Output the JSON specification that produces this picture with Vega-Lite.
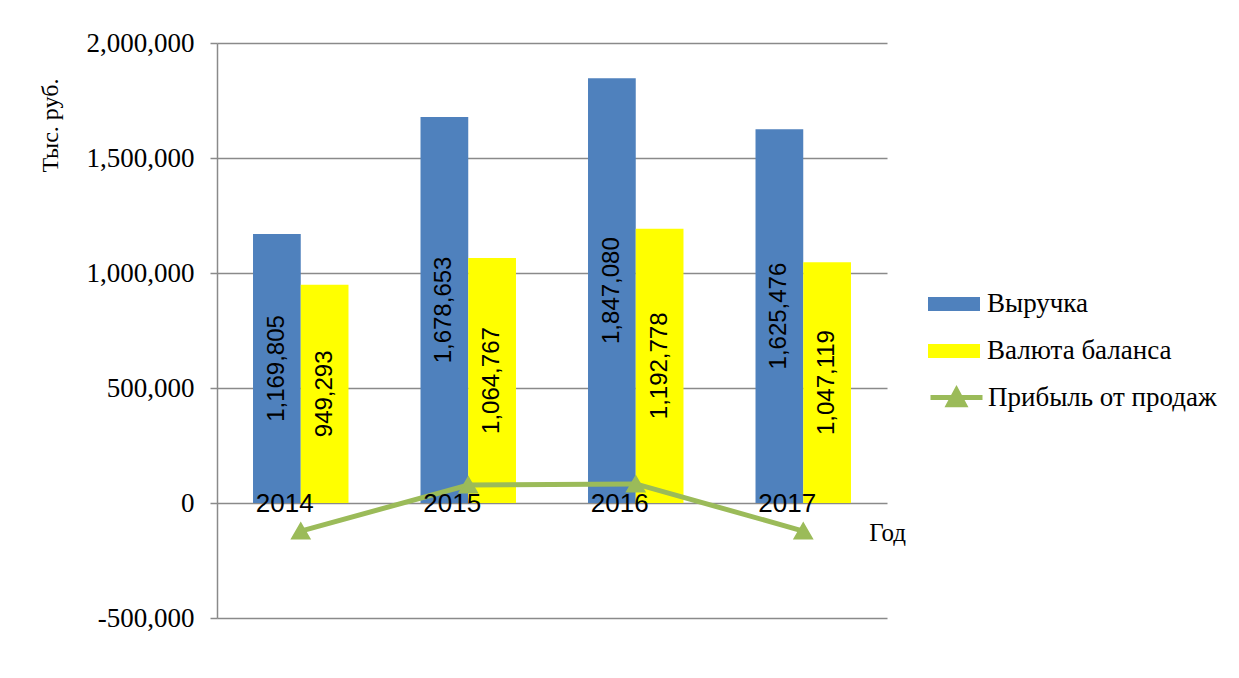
{
  "$schema": "https://vega.github.io/schema/vega-lite/v6.json",
  "autosize": {"type": "none"},
  "padding": {"left": 217, "top": 43, "right": 352, "bottom": 60},
  "width": 670,
  "height": 575,
  "background": "white",
  "config": {
    "view": {"stroke": null},
    "font": "Liberation Serif",
    "axis": {"labelFont": "Liberation Serif", "titleFont": "Liberation Serif"},
    "legend": {"labelFont": "Liberation Serif"}
  },
  "data": {
    "values": [
      {"year": "2014", "series": "Выручка", "value": 1169805},
      {"year": "2015", "series": "Выручка", "value": 1678653},
      {"year": "2016", "series": "Выручка", "value": 1847080},
      {"year": "2017", "series": "Выручка", "value": 1625476},
      {"year": "2014", "series": "Валюта баланса", "value": 949293},
      {"year": "2015", "series": "Валюта баланса", "value": 1064767},
      {"year": "2016", "series": "Валюта баланса", "value": 1192778},
      {"year": "2017", "series": "Валюта баланса", "value": 1047119},
      {"year": "2014", "series": "Прибыль от продаж", "value": -122000},
      {"year": "2015", "series": "Прибыль от продаж", "value": 78000},
      {"year": "2016", "series": "Прибыль от продаж", "value": 83000},
      {"year": "2017", "series": "Прибыль от продаж", "value": -122000}
    ]
  },
  "encoding": {
    "x": {
      "field": "year",
      "type": "nominal",
      "scale": {"paddingInner": 0.43, "paddingOuter": 0.215},
      "axis": {
        "title": "Год",
        "labels": false,
        "ticks": false,
        "domain": false,
        "grid": false,
        "titleFont": "Liberation Serif",
        "titleFontSize": 25,
        "titleFontWeight": "normal",
        "titleColor": "black",
        "titleX": 670,
        "titleY": -86,
        "titleAlign": "center",
        "titleBaseline": "middle"
      }
    }
  },
  "layer": [
    {
      "transform": [{"filter": "datum.series !== 'Прибыль от продаж'"}],
      "mark": {"type": "bar"},
      "encoding": {
        "xOffset": {"field": "series", "type": "nominal", "sort": ["Выручка", "Валюта баланса"], "scale": {"paddingInner": 0}},
        "y": {
          "field": "value",
          "type": "quantitative",
          "scale": {"domain": [-500000, 2000000], "nice": false},
          "axis": {
            "title": "Тыс. руб.",
            "values": [-500000, 0, 500000, 1000000, 1500000, 2000000],
            "labelExpr": "replace(format(datum.value, ',d'), '\u2212', '-')",
            "labelFont": "Liberation Serif",
            "labelFontSize": 27,
            "labelColor": "black",
            "labelPadding": 16,
            "tickSize": 7,
            "tickColor": "#8a8a8a",
            "tickWidth": 1.5,
            "domainColor": "#8a8a8a",
            "domainWidth": 1.5,
            "gridColor": "#8a8a8a",
            "gridWidth": 1.5,
            "titleFont": "Liberation Serif",
            "titleFontSize": 24,
            "titleFontWeight": "normal",
            "titleColor": "black",
            "titleX": -167,
            "titleY": 82,
            "titleAlign": "center",
            "titleBaseline": "middle",
            "titleAngle": -90
          }
        },
        "color": {
          "field": "series",
          "type": "nominal",
          "scale": {"domain": ["Выручка", "Валюта баланса"], "range": ["#4F81BD", "#FFFF00"]},
          "legend": {
            "title": null,
            "orient": "none",
            "legendX": 711,
            "legendY": 235,
            "padding": 0,
            "symbolType": "M-1,-0.27H1V0.27H-1Z",
            "symbolSize": 2704,
            "symbolStrokeWidth": 0,
            "symbolOpacity": 1,
            "rowPadding": 8,
            "labelFont": "Liberation Serif",
            "labelFontSize": 27,
            "labelColor": "black",
            "labelOffset": 7,
            "labelLimit": 300
          }
        }
      }
    },
    {
      "transform": [
        {"filter": "datum.series !== 'Прибыль от продаж'"},
        {"calculate": "datum.value / 2", "as": "mid"}
      ],
      "mark": {"type": "text", "angle": 270, "font": "Liberation Sans", "fontSize": 24, "color": "black", "align": "center", "baseline": "middle"},
      "encoding": {
        "xOffset": {"field": "series", "type": "nominal", "sort": ["Выручка", "Валюта баланса"]},
        "y": {"field": "mid", "type": "quantitative"},
        "text": {"field": "value", "type": "quantitative", "format": ",d"}
      }
    },
    {
      "transform": [{"filter": "datum.series === 'Прибыль от продаж'"}],
      "mark": {
        "type": "line",
        "strokeWidth": 5,
        "point": {"shape": "triangle-up", "size": 300, "filled": true, "color": "#9BBB59"}
      },
      "encoding": {
        "y": {"field": "value", "type": "quantitative"},
        "stroke": {
          "field": "series",
          "type": "nominal",
          "scale": {"domain": ["Прибыль от продаж"], "range": ["#9BBB59"]},
          "legend": {
            "title": null,
            "orient": "none",
            "legendX": 711,
            "legendY": 326,
            "padding": 0,
            "symbolType": "M-1,0H1M-0.3,0.28L0,-0.28L0.3,0.28Z",
            "symbolSize": 2704,
            "symbolStrokeWidth": 5,
            "labelFont": "Liberation Serif",
            "labelFontSize": 27,
            "labelColor": "black",
            "labelOffset": 3,
            "labelLimit": 300,
            "encode": {"symbols": {"update": {"fill": {"value": "#9BBB59"}, "opacity": {"value": 1}}}}
          }
        }
      }
    },
    {
      "transform": [{"filter": "datum.series === 'Прибыль от продаж'"}],
      "mark": {"type": "text", "font": "Liberation Sans", "fontSize": 26, "color": "black", "align": "center", "baseline": "middle", "dx": -16, "dy": 1},
      "encoding": {
        "y": {"datum": 0, "type": "quantitative"},
        "text": {"field": "year", "type": "nominal"}
      }
    }
  ]
}
